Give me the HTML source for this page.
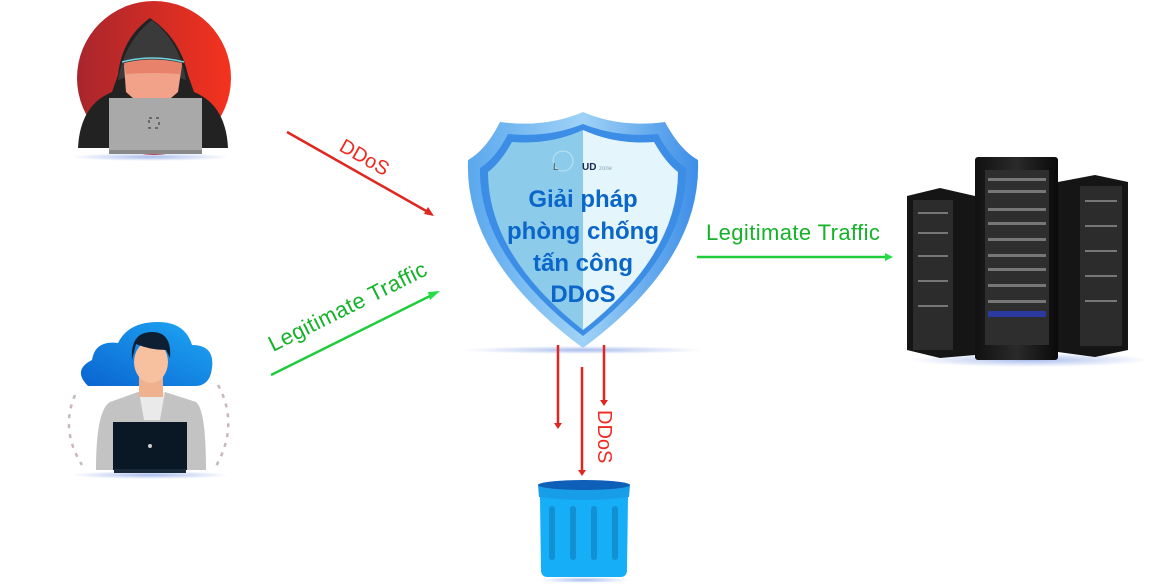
<!DOCTYPE html>
<html><head><meta charset="utf-8"><style>
html,body{margin:0;padding:0;background:#fff;width:1175px;height:588px;overflow:hidden}
svg{display:block}
text{font-family:"Liberation Sans",sans-serif}
</style></head><body>
<svg width="1175" height="588" viewBox="0 0 1175 588" xmlns="http://www.w3.org/2000/svg">
<defs>
<linearGradient id="red" x1="0" x2="1"><stop offset="0" stop-color="#a8262d"/><stop offset="1" stop-color="#f5321e"/></linearGradient>
<linearGradient id="cloud" x1="0" x2="1" y1="1" y2="0"><stop offset="0" stop-color="#0a64d0"/><stop offset="1" stop-color="#1ea8f5"/></linearGradient>
<linearGradient id="rim" x1="0" x2="1"><stop offset="0" stop-color="#5aa8ee"/><stop offset="0.5" stop-color="#9fd2f6"/><stop offset="1" stop-color="#3d8ee8"/></linearGradient>
<linearGradient id="rack" x1="0" x2="1"><stop offset="0" stop-color="#111"/><stop offset="0.5" stop-color="#2a2a2a"/><stop offset="1" stop-color="#0a0a0a"/></linearGradient>
<radialGradient id="glow"><stop offset="0" stop-color="#6f8fe0" stop-opacity="0.6"/><stop offset="1" stop-color="#6f8fe0" stop-opacity="0"/></radialGradient>
</defs>

<!-- hacker -->
<circle cx="154" cy="78" r="77" fill="url(#red)"/>
<ellipse cx="150" cy="157" rx="80" ry="4" fill="url(#glow)"/>
<path d="M78 148 Q80 105 112 92 L118 75 Q122 38 150 18 Q180 38 188 75 L194 92 Q226 105 228 148 Z" fill="#222"/>
<path d="M118 80 Q124 42 152 20 Q180 42 186 80 Q152 68 118 80 Z" fill="#3a3a3a"/>
<path d="M124 65 Q152 58 182 65 L178 92 Q160 108 152 110 Q140 105 126 92 Z" fill="#f2a288"/>
<path d="M124 63 Q152 56 182 63 L180 74 Q152 72 126 74 Z" fill="#e9826a"/>
<path d="M122 62 Q152 54 184 62" fill="none" stroke="#6fd3e0" stroke-width="1.5"/>
<rect x="109" y="98" width="93" height="56" fill="#a9a9a9"/>
<rect x="109" y="150" width="93" height="4" fill="#888"/>
<rect x="149" y="118" width="10" height="10" fill="none" stroke="#555" stroke-width="1.5" stroke-dasharray="3 4"/>

<!-- user -->
<ellipse cx="150" cy="475" rx="80" ry="4" fill="url(#glow)"/>
<path d="M88 386 Q72 370 92 360 Q95 340 118 343 Q128 322 158 322 Q185 322 192 345 Q215 345 212 368 Q210 386 195 386 Z" fill="url(#cloud)"/>
<path d="M75 395 Q60 430 82 465" fill="none" stroke="#c8b8b8" stroke-width="2.5" stroke-dasharray="4 6"/>
<path d="M218 385 Q240 425 215 468" fill="none" stroke="#c8b8b8" stroke-width="2.5" stroke-dasharray="4 6"/>
<path d="M96 470 Q96 410 110 402 L138 392 L165 392 L196 402 Q206 410 206 470 Z" fill="#c3c3c3"/>
<path d="M139 392 L165 392 L160 420 L144 420 Z" fill="#eaeaea"/>
<rect x="139" y="375" width="24" height="22" fill="#f0b18f"/>
<ellipse cx="151" cy="362" rx="17" ry="21" fill="#f7c09f"/>
<path d="M132 360 Q130 332 152 332 Q172 332 170 358 L166 350 Q150 350 136 344 Z" fill="#0f1f33"/>
<rect x="113" y="422" width="74" height="48" fill="#0a1826"/>
<rect x="114" y="469" width="72" height="4" fill="#1a2a3a"/>
<circle cx="150" cy="446" r="2" fill="#ccc"/>

<!-- arrows left -->
<line x1="287" y1="132" x2="428" y2="212" stroke="#e0261e" stroke-width="2.5"/>
<polygon points="434,216 424,214 428,207" fill="#e0261e"/>
<text x="0" y="0" transform="translate(338,150) rotate(29.5)" font-size="20" fill="#ef2a20">DDoS</text>
<line x1="271" y1="375" x2="432" y2="295" stroke="#1fcc3a" stroke-width="2.5"/>
<polygon points="440,291 430,300 428,292" fill="#22dd44"/>
<text x="0" y="0" transform="translate(273,352) rotate(-26.5)" font-size="22" letter-spacing="0.4" fill="#16b22a">Legitimate Traffic</text>

<!-- shield -->
<ellipse cx="583" cy="350" rx="120" ry="4" fill="url(#glow)"/>
<path d="M583 112 Q620 128 665 122 Q680 150 698 160 Q702 260 583 348 Q464 260 468 160 Q486 150 500 122 Q546 128 583 112 Z" fill="url(#rim)"/>
<path d="M583 124 Q618 138 658 134 Q670 158 686 168 Q688 255 583 336 Q478 255 480 168 Q496 158 508 134 Q548 138 583 124 Z" fill="#3b8de6"/>
<path d="M583 130 L583 330 Q488 255 488 172 Q500 163 512 142 Q550 145 583 130 Z" fill="#8dcbea"/>
<path d="M583 130 Q616 145 654 142 Q666 163 678 172 Q678 255 583 330 Z" fill="#e5f5fc"/>
<circle cx="563" cy="161" r="10" fill="none" stroke="#bfe4f2" stroke-width="1"/>
<text x="553" y="170" font-size="10" fill="#555">L</text>
<text x="582" y="170" font-size="10" font-weight="bold" fill="#1a2a50">UD</text>
<text x="599" y="170" font-size="6" fill="#8ab">zone</text>
<g font-weight="bold" fill="#0a66c8" font-size="24" text-anchor="middle">
<text x="583" y="207">Giải pháp</text>
<text x="583" y="239">phòng chống</text>
<text x="583" y="271">tấn công</text>
<text x="583" y="302">DDoS</text>
</g>

<!-- right arrow -->
<text x="706" y="240" font-size="22" letter-spacing="0.4" fill="#16b22a">Legitimate Traffic</text>
<line x1="697" y1="257" x2="886" y2="257" stroke="#1fcc3a" stroke-width="2.5"/>
<polygon points="893,257 885,253 885,261" fill="#22dd44"/>

<!-- servers -->
<ellipse cx="1030" cy="360" rx="120" ry="7" fill="url(#glow)"/>
<path d="M907 196 L940 188 L975 196 L975 355 L940 358 L907 350 Z" fill="#151515"/>
<rect x="913" y="200" width="40" height="150" fill="#2c2c2c"/>
<path d="M1058 182 L1095 175 L1128 182 L1128 350 L1095 357 L1058 352 Z" fill="#151515"/>
<rect x="1080" y="186" width="42" height="160" fill="#2c2c2c"/>
<rect x="975" y="157" width="83" height="203" rx="3" fill="url(#rack)"/>
<rect x="985" y="170" width="64" height="175" fill="#2e2e2e"/>
<g fill="#777">
<rect x="988" y="178" width="58" height="3"/><rect x="988" y="190" width="58" height="3"/><rect x="988" y="208" width="58" height="3"/><rect x="988" y="222" width="58" height="3"/>
<rect x="988" y="238" width="58" height="3"/><rect x="988" y="254" width="58" height="3"/><rect x="988" y="268" width="58" height="3"/><rect x="988" y="284" width="58" height="3"/>
<rect x="988" y="300" width="58" height="3"/><rect x="988" y="314" width="58" height="3"/>
<rect x="918" y="212" width="30" height="2"/><rect x="918" y="232" width="30" height="2"/><rect x="918" y="255" width="30" height="2"/><rect x="918" y="280" width="30" height="2"/><rect x="918" y="305" width="30" height="2"/>
<rect x="1085" y="200" width="32" height="2"/><rect x="1085" y="225" width="32" height="2"/><rect x="1085" y="250" width="32" height="2"/><rect x="1085" y="275" width="32" height="2"/><rect x="1085" y="300" width="32" height="2"/>
</g>
<rect x="988" y="311" width="58" height="6" fill="#2a3aa0"/>

<!-- down arrows -->
<g stroke="#e0261e" stroke-width="2.5">
<line x1="558" y1="345" x2="558" y2="424"/><line x1="582" y1="367" x2="582" y2="471"/><line x1="604" y1="345" x2="604" y2="401"/>
</g>
<g fill="#e0261e">
<polygon points="554,423 562,423 558,429"/><polygon points="578,470 586,470 582,476"/><polygon points="600,400 608,400 604,406"/>
</g>
<text x="0" y="0" transform="translate(598,410) rotate(90)" font-size="20" fill="#ef2a20">DDoS</text>

<!-- trash -->
<ellipse cx="584" cy="580" rx="45" ry="3" fill="url(#glow)"/>
<path d="M540 497 L628 497 L627 570 Q627 577 620 577 L548 577 Q541 577 541 570 Z" fill="#17aef8"/>
<path d="M538 485 Q584 477 630 485 L629 497 Q584 503 539 497 Z" fill="#189ee8"/>
<ellipse cx="584" cy="485" rx="46" ry="5" fill="#0e5fb8"/>
<g fill="#1291d2">
<rect x="549" y="506" width="6" height="54" rx="3"/><rect x="570" y="506" width="6" height="54" rx="3"/><rect x="591" y="506" width="6" height="54" rx="3"/><rect x="612" y="506" width="6" height="54" rx="3"/>
</g>
</svg>
</body></html>
